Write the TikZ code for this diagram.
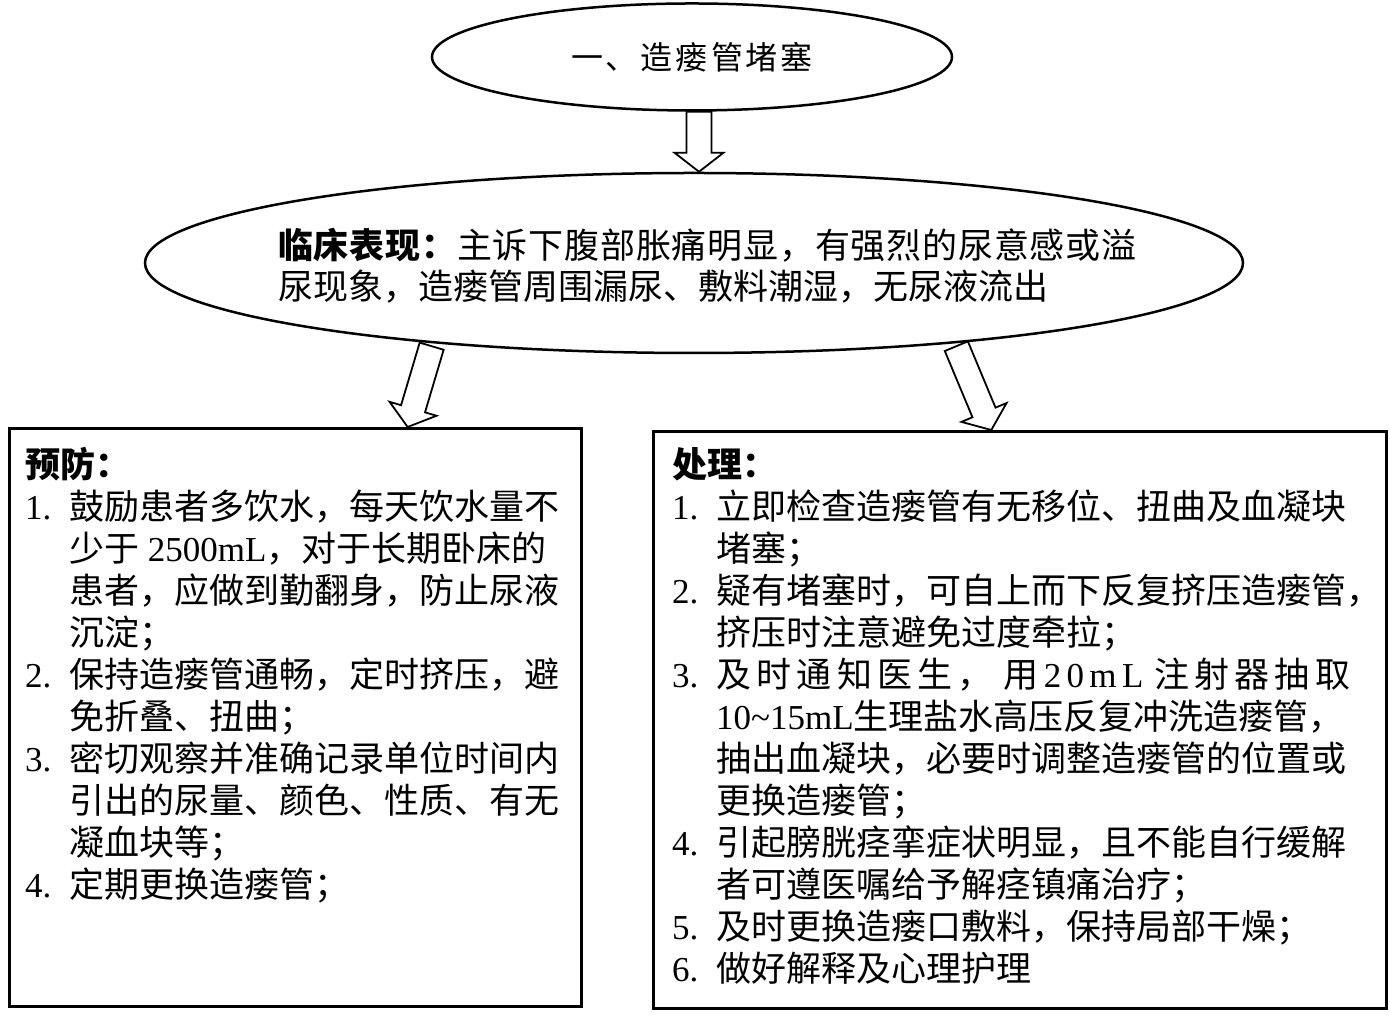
\documentclass[tikz,border=0pt]{standalone}
\usepackage{fontspec}
\setmainfont{Liberation Serif}
\newfontfamily\cjk{Noto Sans CJK SC}
\newfontfamily\latf{Liberation Serif}
\usetikzlibrary{calc,shapes.geometric}
\newcommand\lat[1]{{\latf #1}}
\newcommand\numlab[1]{\makebox[44pt][l]{\latf #1}}
\newcommand\ind{\hspace*{44pt}}
\newcommand\fstrut{\rule{0pt}{30pt}}
\newcommand\hollowarrow[2]{%
  \coordinate (ha-h) at ($(#2)!19pt!(#1)$);
  \draw[hollow] ($(#1)!12.5pt!90:(#2)$) -- ($(ha-h)!12.5pt!-90:(#1)$) -- ($(ha-h)!24.5pt!-90:(#1)$) -- (#2) -- ($(ha-h)!24.5pt!90:(#1)$) -- ($(ha-h)!12.5pt!90:(#1)$) -- ($(#1)!12.5pt!-90:(#2)$) -- cycle;}
\begin{document}
\begin{tikzpicture}[x=1pt,y=1pt,
  ell/.style={draw, ellipse, line width=2.5pt, inner sep=0},
  boxframe/.style={draw, line width=3pt, inner sep=0, anchor=south west},
  hollow/.style={draw, line width=1.8pt, line join=miter, fill=white},
  txt/.style={inner sep=0, anchor=north west, align=left, font=\cjk\fontsize{35}{42}\selectfont}]
\useasboundingbox (0,0) rectangle (1390,1016);

% ellipses
\node[ell, minimum width=520, minimum height=107, font=\cjk\fontsize{32}{36}\selectfont] (e1) at (692,959)
  {一\hspace{3pt}、\hspace{3pt}造\hspace{3pt}瘘\hspace{3pt}管\hspace{3pt}堵\hspace{3pt}塞};
\node[ell, minimum width=1098, minimum height=180] (e2) at (694,753) {};
\node[txt, font=\cjk\fontsize{35}{41}\selectfont] (t2) at ($(e2.center)+(-416,35)$)
  {\fstrut\makebox[859pt][l]{{\bfseries 临\hfil 床\hfil 表\hfil 现\hfil ：}\hfil 主\hfil 诉\hfil 下\hfil 腹\hfil 部\hfil 胀\hfil 痛\hfil 明\hfil 显\hfil ，\hfil 有\hfil 强\hfil 烈\hfil 的\hfil 尿\hfil 意\hfil 感\hfil 或\hfil 溢}\\
   尿现象，造瘘管周围漏尿、敷料潮湿，无尿液流出};

% boxes
\node[boxframe, minimum width=572, minimum height=578] (lbox) at (8,8) {};
\node[boxframe, minimum width=733, minimum height=577] (rbox) at (652,6) {};

% arrows
\coordinate (ta-s) at ($(e1.south)+(7,0)$);
\coordinate (ta-e) at ($(e2.north)+(5,0)$);
\hollowarrow{ta-s}{ta-e}
\coordinate (la-s) at ($(e2.197)+(0,-3)$);
\coordinate (la-e) at ($(lbox.north west)!0.695!(lbox.north east)$);
\hollowarrow{la-s}{la-e}
\coordinate (ra-s) at ($(e2.-17)+(0,-3)$);
\coordinate (ra-e) at ($(rbox.north west)!0.461!(rbox.north east)$);
\hollowarrow{ra-s}{ra-e}

% left box text
\node[txt] (lt) at ($(lbox.north west)+(17,-20)$)
  {\fstrut{\bfseries 预防：}\\
   \numlab{1.}鼓励患者多饮水，每天饮水量不\\
   \ind 少于\lat{ 2500mL}，对于长期卧床的\\
   \ind 患者，应做到勤翻身，防止尿液\\
   \ind 沉淀；\\
   \numlab{2.}保持造瘘管通畅，定时挤压，避\\
   \ind 免折叠、扭曲；\\
   \numlab{3.}密切观察并准确记录单位时间内\\
   \ind 引出的尿量、颜色、性质、有无\\
   \ind 凝血块等；\\
   \numlab{4.}定期更换造瘘管；};

% right box text
\node[txt] (rt) at ($(rbox.north west)+(20,-17)$)
  {\fstrut{\bfseries 处理：}\\
   \numlab{1.}立即检查造瘘管有无移位、扭曲及血凝块\\
   \ind 堵塞；\\
   \numlab{2.}疑有堵塞时，可自上而下反复挤压造瘘管，\\
   \ind 挤压时注意避免过度牵拉；\\
   \numlab{3.}\makebox[634pt][l]{及\hfill 时\hfill 通\hfill 知\hfill 医\hfill 生\hfill ，\hfill\hfill 用\hfill\lat{2}\hfill\lat{0}\hfill\lat{m}\hfill\lat{L}\hfill\hfill 注\hfill 射\hfill 器\hfill 抽\hfill 取}\\
   \ind\lat{10\char`\~15mL}生理盐水高压反复冲洗造瘘管，\\
   \ind 抽出血凝块，必要时调整造瘘管的位置或\\
   \ind 更换造瘘管；\\
   \numlab{4.}引起膀胱痉挛症状明显，且不能自行缓解\\
   \ind 者可遵医嘱给予解痉镇痛治疗；\\
   \numlab{5.}及时更换造瘘口敷料，保持局部干燥；\\
   \numlab{6.}做好解释及心理护理};
\end{tikzpicture}
\end{document}
